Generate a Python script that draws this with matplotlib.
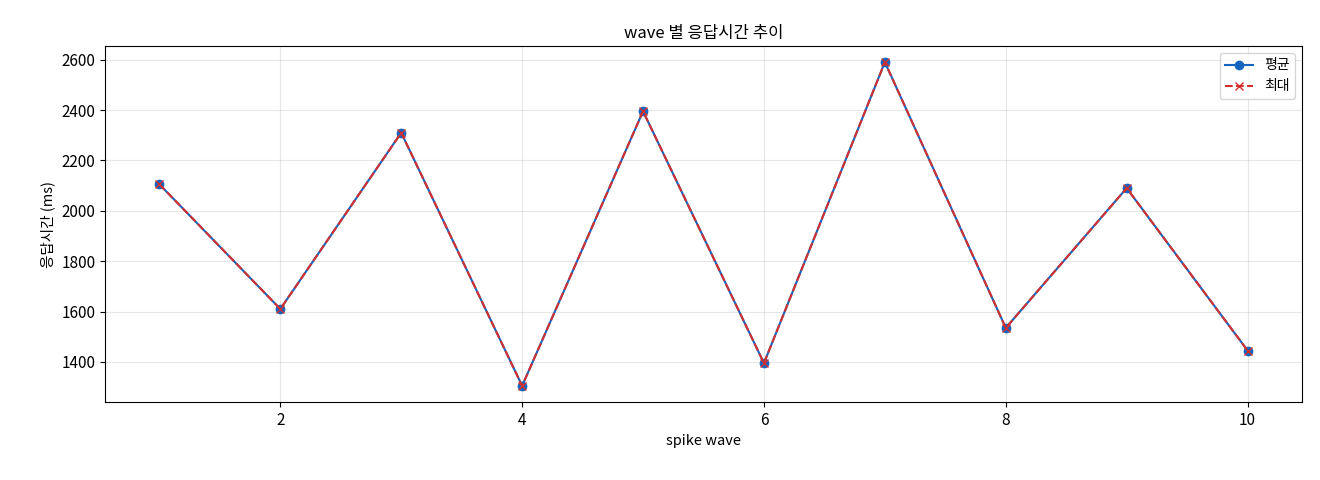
import matplotlib
matplotlib.use("Agg")
import matplotlib.pyplot as plt

plt.rcParams['font.family'] = ['Noto Sans CJK KR', 'DejaVu Sans']
plt.rcParams['axes.unicode_minus'] = False

waves = [1, 2, 3, 4, 5, 6, 7, 8, 9, 10]
avg_ms = [2105, 1610, 2310, 1305, 2395, 1395, 2590, 1535, 2090, 1445]
max_ms = [2105, 1610, 2310, 1305, 2395, 1395, 2590, 1535, 2090, 1445]

fig = plt.figure(figsize=(13.2, 4.8), dpi=100)
ax = fig.add_axes([105/1320, 1-402/480, (1302-105)/1320, (402-46)/480])
ax.plot(waves, avg_ms, '-o', color='#1565c0', label='평균', markersize=6)
ax.plot(waves, max_ms, '--x', color='#d32f2f', label='최대', markersize=6)
ax.set_title('wave 별 응답시간 추이', fontsize=12)
ax.set_xlabel('spike wave', fontsize=10.5)
ax.set_ylabel('응답시간 (ms)', fontsize=10.5)
ax.tick_params(labelsize=11)
ax.grid(True, alpha=0.3)
ax.legend(loc='upper right', fontsize=10)
fig.savefig('out.png', dpi=100)
